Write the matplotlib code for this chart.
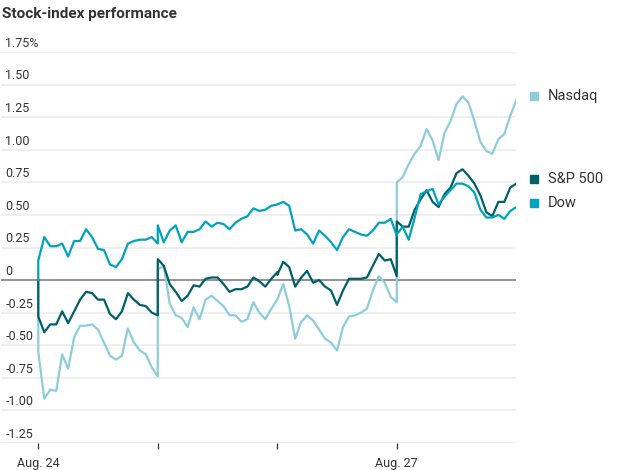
import numpy as np
import matplotlib
matplotlib.use("Agg")
from matplotlib import pyplot as plt
from matplotlib.transforms import offset_copy

plt.rcParams['font.family'] = ['Roboto', 'DejaVu Sans']

# percent change, sampled 21 times per trading session (open .. close)
nasdaq_days = [
    [-0.55, -0.91, -0.84, -0.85, -0.57, -0.68, -0.44, -0.35, -0.35, -0.34, -0.38,
     -0.48, -0.58, -0.61, -0.58, -0.37, -0.48, -0.54, -0.57, -0.67, -0.74],
    [0.08, 0.11, -0.18, -0.27, -0.29, -0.36, -0.21, -0.30, -0.15, -0.12, -0.16,
     -0.20, -0.27, -0.27, -0.32, -0.30, -0.17, -0.25, -0.30, -0.22, -0.15],
    [-0.15, -0.03, -0.20, -0.45, -0.32, -0.27, -0.31, -0.38, -0.45, -0.48, -0.54,
     -0.36, -0.28, -0.27, -0.25, -0.22, -0.08, 0.03, -0.02, -0.13, -0.17],
    [0.75, 0.79, 0.89, 0.97, 1.03, 1.16, 1.07, 0.92, 1.13, 1.22, 1.35,
     1.41, 1.36, 1.22, 1.06, 0.99, 0.97, 1.08, 1.12, 1.26, 1.38],
]
sp500_days = [
    [-0.28, -0.40, -0.34, -0.34, -0.24, -0.33, -0.24, -0.15, -0.09, -0.10, -0.15,
     -0.15, -0.26, -0.30, -0.24, -0.10, -0.15, -0.19, -0.20, -0.25, -0.27],
    [0.16, 0.11, -0.03, -0.09, -0.16, -0.12, -0.04, -0.05, 0.01, 0.02, 0.02,
     -0.03, -0.09, -0.07, -0.07, -0.05, 0.02, -0.01, -0.05, 0.01, 0.06],
    [0.04, 0.14, 0.10, -0.05, 0.02, 0.07, -0.02, 0.00, -0.05, -0.08, -0.19,
     -0.08, 0.01, 0.01, 0.01, 0.02, 0.11, 0.20, 0.15, 0.16, 0.03],
    [0.45, 0.41, 0.41, 0.54, 0.62, 0.69, 0.60, 0.56, 0.66, 0.71, 0.82,
     0.85, 0.80, 0.74, 0.65, 0.52, 0.49, 0.60, 0.60, 0.71, 0.74],
]
dow_days = [
    [0.15, 0.33, 0.26, 0.26, 0.28, 0.18, 0.30, 0.30, 0.39, 0.33, 0.24,
     0.23, 0.12, 0.10, 0.16, 0.28, 0.30, 0.31, 0.31, 0.33, 0.28],
    [0.42, 0.29, 0.38, 0.42, 0.29, 0.37, 0.37, 0.39, 0.45, 0.41, 0.44,
     0.43, 0.39, 0.44, 0.47, 0.49, 0.55, 0.53, 0.54, 0.57, 0.58],
    [0.58, 0.60, 0.57, 0.38, 0.39, 0.35, 0.28, 0.38, 0.34, 0.29, 0.23,
     0.33, 0.39, 0.37, 0.35, 0.34, 0.38, 0.44, 0.44, 0.47, 0.34],
    [0.35, 0.41, 0.31, 0.48, 0.66, 0.68, 0.70, 0.58, 0.64, 0.69, 0.74,
     0.74, 0.72, 0.67, 0.54, 0.48, 0.48, 0.50, 0.47, 0.53, 0.56],
]

series = [("Nasdaq", nasdaq_days, "#8dcddb"),
          ("S&P 500", sp500_days, "#00606a"),
          ("Dow", dow_days, "#00a3bf")]

y_ticks = [1.75, 1.5, 1.25, 1.0, 0.75, 0.5, 0.25, 0, -0.25, -0.5, -0.75, -1.0, -1.25]
y_labels = ["1.75%", "1.50", "1.25", "1.00", "0.75", "0.50", "0.25", "0",
            "-0.25", "-0.50", "-0.75", "-1.00", "-1.25"]
day_ticks = [0, 1, 2, 3]
day_labels = ["Aug. 24", "", "", "Aug. 27"]

txt = "#333333"

fig = plt.figure(figsize=(6.22, 4.70), dpi=100)
ax = fig.add_axes([0.002, 0.0574, 0.828, 0.832])

for v in y_ticks:
    if v == 0:
        continue
    ax.axhline(v, color="#ececec", lw=1.2, zorder=1)
ax.axhline(0, color="#8a8a8a", lw=1.3, zorder=2)

for lab, v in zip(y_labels, y_ticks):
    ax.annotate(lab, xy=(0, v), xycoords=ax.get_yaxis_transform(),
                xytext=(3, 1.5), textcoords="offset points",
                ha="left", va="bottom", fontsize=9, color=txt)

# build time axis: each session spans one unit, previous close at its start
for name, days, col in series:
    t = [0.0]
    vals = [0.0]
    for d, day in enumerate(days):
        t += list(d + np.linspace(0, 1, len(day)))
        vals += day
    ax.plot(t, vals, color=col, lw=1.6, zorder=3, solid_joinstyle="round")

    last = vals[-1]
    sq = offset_copy(ax.transData, fig=fig, x=12.5, y=3.3, units="points")
    ax.plot([t[-1]], [last], marker="s", ms=6, color=col, transform=sq,
            clip_on=False, linestyle="none")
    ax.annotate(name, xy=(t[-1], last), xytext=(22.5, 3.3),
                textcoords="offset points", ha="left", va="center",
                fontsize=10.5, color=txt, annotation_clip=False)

ax.set_xlim(-0.31, 4.0)
ax.set_ylim(-1.25, 1.75)
ax.set_yticks([])
ax.set_xticks(day_ticks)
ax.set_xticklabels(day_labels, fontsize=9, color=txt)
ax.tick_params(axis="x", length=4, width=0.9, color="#333333", pad=6)
for s in ax.spines.values():
    s.set_visible(False)

fig.text(0.003, 0.97, "Stock-index performance", fontsize=11, fontweight="bold",
         color="#333333", ha="left", va="center")

fig.savefig("out.png", dpi=100)
